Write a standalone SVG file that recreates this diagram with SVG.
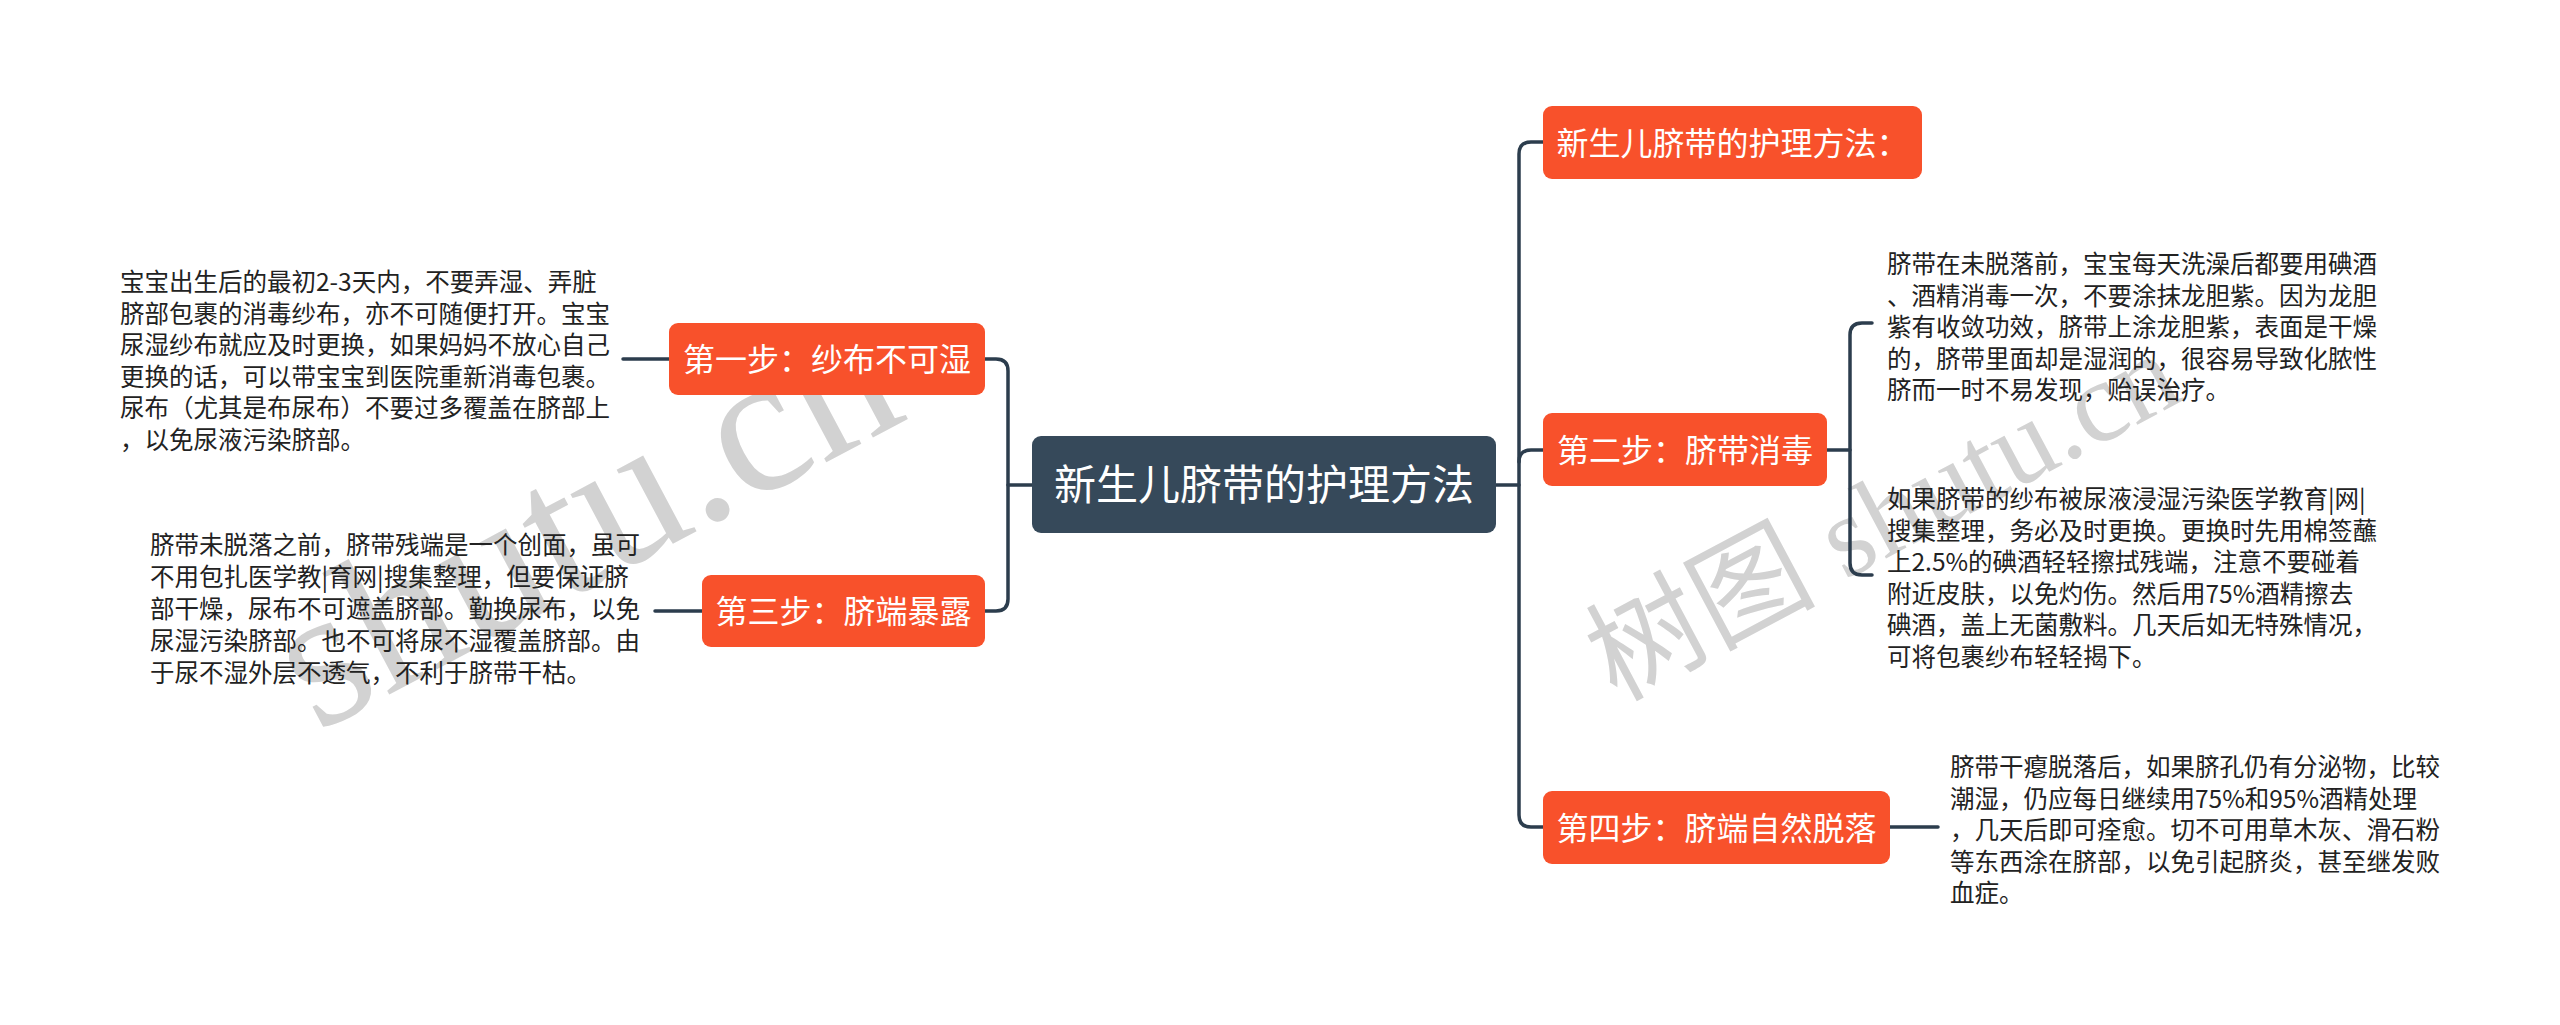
<svg xmlns="http://www.w3.org/2000/svg" width="2560" height="1025" viewBox="0 0 2560 1025">
<style>
.bg{fill:#ffffff}
.main{fill:#36495a}
.sub{fill:#f8512b}
.ntext{font-family:"Noto Sans CJK SC","Noto Sans",sans-serif;fill:#ffffff;text-anchor:middle}
.body{font-family:"Noto Sans CJK SC","Noto Sans",sans-serif;font-size:24.5px;fill:#222222}
.wm{font-family:"Liberation Serif","Noto Sans CJK SC",serif;fill:#d2d2d2}
.conn path{fill:none;stroke:#2c3d4d;stroke-width:3.5;stroke-linecap:round}
</style>
<rect class="bg" x="0" y="0" width="2560" height="1025"/>
<g id="watermarks">
<text class="wm" x="317" y="733" font-size="200" transform="rotate(-28 317 733)">shutu.cn</text>
<text class="wm" x="1616" y="702" font-size="115" transform="rotate(-28 1616 702)">树图 shutu.cn</text>
</g>
<g class="conn" id="connectors">
<path d="M1032,485 H1008"/>
<path d="M985,359 H996 Q1008,359 1008,371 V599 Q1008,611 996,611 H985"/>
<path d="M669,359 H623"/>
<path d="M702,611 H655"/>
<path d="M1496,485 H1519"/>
<path d="M1543,142 H1531 Q1519,142 1519,154 V815 Q1519,827 1531,827 H1543"/>
<path d="M1519,462 Q1519,450 1531,450 H1543"/>
<path d="M1827,450 H1850"/>
<path d="M1872,323 H1862 Q1850,323 1850,335 V563 Q1850,575 1862,575 H1872"/>
<path d="M1890,827 H1938"/>
</g>
<g id="central">
<rect class="main" x="1032" y="436" width="464" height="97" rx="9"/>
<text class="ntext" x="1264" y="500" font-size="42">新生儿脐带的护理方法</text>
</g>
<g id="step1">
<rect class="sub" x="669" y="323" width="316" height="72" rx="9"/>
<text class="ntext" x="827" y="371" font-size="32">第一步：纱布不可湿</text>
</g>
<g id="step1-text">
<text class="body" x="120" y="291">宝宝出生后的最初2-3天内，不要弄湿、弄脏</text>
<text class="body" x="120" y="322.6">脐部包裹的消毒纱布，亦不可随便打开。宝宝</text>
<text class="body" x="120" y="354.2">尿湿纱布就应及时更换，如果妈妈不放心自己</text>
<text class="body" x="120" y="385.8">更换的话，可以带宝宝到医院重新消毒包裹。</text>
<text class="body" x="120" y="417.4">尿布（尤其是布尿布）不要过多覆盖在脐部上</text>
<text class="body" x="120" y="449">，以免尿液污染脐部。</text>
</g>
<g id="step3">
<rect class="sub" x="702" y="575" width="283" height="72" rx="9"/>
<text class="ntext" x="843.5" y="623" font-size="32">第三步：脐端暴露</text>
</g>
<g id="step3-text">
<text class="body" x="150" y="554">脐带未脱落之前，脐带残端是一个创面，虽可</text>
<text class="body" x="150" y="586">不用包扎医学教|育网|搜集整理，但要保证脐</text>
<text class="body" x="150" y="618">部干燥，尿布不可遮盖脐部。勤换尿布，以免</text>
<text class="body" x="150" y="650">尿湿污染脐部。也不可将尿不湿覆盖脐部。由</text>
<text class="body" x="150" y="682">于尿不湿外层不透气，不利于脐带干枯。</text>
</g>
<g id="title-node">
<rect class="sub" x="1543" y="106" width="379" height="73" rx="9"/>
<text class="ntext" x="1732.5" y="154.5" font-size="32">新生儿脐带的护理方法：</text>
</g>
<g id="step2">
<rect class="sub" x="1543" y="413" width="284" height="73" rx="9"/>
<text class="ntext" x="1685" y="461.5" font-size="32">第二步：脐带消毒</text>
</g>
<g id="step2-text-a">
<text class="body" x="1887" y="273">脐带在未脱落前，宝宝每天洗澡后都要用碘酒</text>
<text class="body" x="1887" y="304.5">、酒精消毒一次，不要涂抹龙胆紫。因为龙胆</text>
<text class="body" x="1887" y="336">紫有收敛功效，脐带上涂龙胆紫，表面是干燥</text>
<text class="body" x="1887" y="367.5">的，脐带里面却是湿润的，很容易导致化脓性</text>
<text class="body" x="1887" y="399">脐而一时不易发现，贻误治疗。</text>
</g>
<g id="step2-text-b">
<text class="body" x="1887" y="508">如果脐带的纱布被尿液浸湿污染医学教育|网|</text>
<text class="body" x="1887" y="539.5">搜集整理，务必及时更换。更换时先用棉签蘸</text>
<text class="body" x="1887" y="571">上2.5%的碘酒轻轻擦拭残端，注意不要碰着</text>
<text class="body" x="1887" y="602.5">附近皮肤，以免灼伤。然后用75%酒精擦去</text>
<text class="body" x="1887" y="634">碘酒，盖上无菌敷料。几天后如无特殊情况，</text>
<text class="body" x="1887" y="665.5">可将包裹纱布轻轻揭下。</text>
</g>
<g id="step4">
<rect class="sub" x="1543" y="791" width="347" height="73" rx="9"/>
<text class="ntext" x="1716.5" y="839.5" font-size="32">第四步：脐端自然脱落</text>
</g>
<g id="step4-text">
<text class="body" x="1950" y="776">脐带干瘪脱落后，如果脐孔仍有分泌物，比较</text>
<text class="body" x="1950" y="807.5">潮湿，仍应每日继续用75%和95%酒精处理</text>
<text class="body" x="1950" y="839">，几天后即可痊愈。切不可用草木灰、滑石粉</text>
<text class="body" x="1950" y="870.5">等东西涂在脐部，以免引起脐炎，甚至继发败</text>
<text class="body" x="1950" y="902">血症。</text>
</g>
</svg>
